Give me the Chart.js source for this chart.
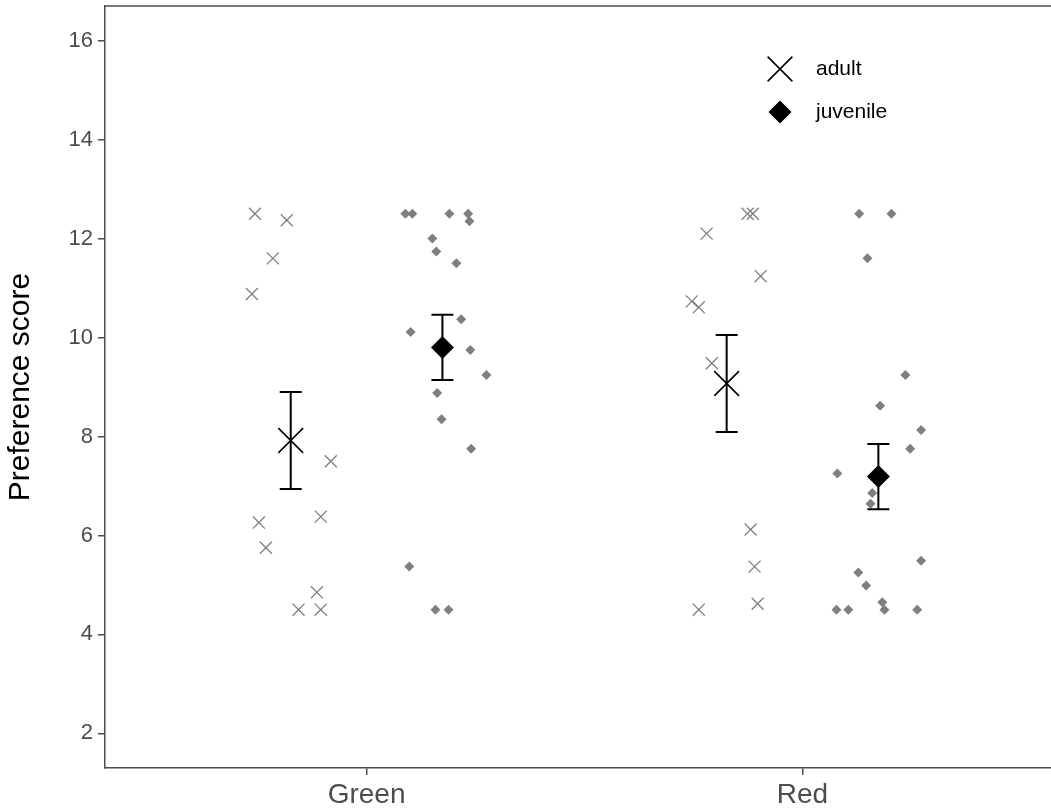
<!DOCTYPE html>
<html>
<head>
<meta charset="utf-8">
<script src="https://cdn.jsdelivr.net/npm/chart.js@4/dist/chart.umd.min.js"></script>
<style>
  html, body { margin: 0; padding: 0; background: #fff; overflow: hidden; }
  #wrap { width: 1051px; height: 809px; }
</style>
</head>
<body>
<div id="wrap"><canvas id="grafica" width="1051" height="809"></canvas></div>
<script>
const categorias = ['Green', 'Red'];
const grupos = ['adult', 'juvenile'];
const yTicks = [2, 4, 6, 8, 10, 12, 14, 16];

// puntuaciones individuales por color y edad
const greenAdult = [12.5, 12.37, 11.6, 10.88, 7.5, 6.26, 6.38, 5.75, 4.85, 4.5, 4.5];
const greenAdultJitter = [-0.082, -0.009, -0.041, -0.089, 0.092, -0.073, 0.069, -0.057, 0.060, 0.018, 0.069];
const greenJuvenile = [12.5, 12.5, 12.5, 12.5, 12.35, 12.0, 11.74, 11.5, 10.37, 10.11, 9.75, 9.24, 8.88, 8.35, 7.75, 5.37, 4.5, 4.5];
const greenJuvenileJitter = [-0.085, -0.069, 0.016, 0.059, 0.062, -0.023, -0.014, 0.032, 0.043, -0.073, 0.064, 0.101, -0.012, -0.002, 0.066, -0.076, -0.016, 0.014];
const redAdult = [12.5, 12.5, 12.1, 11.24, 10.73, 10.61, 9.48, 6.12, 5.37, 4.62, 4.5];
const redAdultJitter = [0.048, 0.060, -0.046, 0.078, -0.080, -0.064, -0.034, 0.055, 0.064, 0.071, -0.064];
const redJuvenile = [12.5, 12.5, 11.6, 9.24, 8.62, 8.13, 7.75, 7.25, 6.86, 6.64, 5.49, 5.25, 4.99, 4.65, 4.5, 4.5, 4.5, 4.5];
const redJuvenileJitter = [-0.044, 0.030, -0.025, 0.062, 0.004, 0.098, 0.073, -0.094, -0.014, -0.018, 0.098, -0.046, -0.028, 0.009, 0.014, -0.096, -0.069, 0.089];

// medias y error estandar (Green, Red)
const mediaAdult = [7.92, 9.07];
const errorAdult = [0.98, 0.98];
const mediaJuvenile = [9.80, 7.19];
const errorJuvenile = [0.66, 0.66];

const DODGE = 0.174;
const GRIS = '#7f7f7f';
const EJE = '#4d4d4d';
const FUENTE = '"Liberation Sans", Arial, sans-serif';

function puntos(valores, jitter, centro) {
    return valores.map((v, i) => ({ x: centro + jitter[i], y: v }));
}

function medias(valores, errores, desplaz) {
    return valores.map((v, i) => ({ x: i + 1 + desplaz, y: v, err: errores[i] }));
}

// sin relleno extra alrededor de los ejes
function sinPadding(s) {
    s.paddingLeft = 0;
    s.paddingRight = 0;
    s.paddingTop = 0;
    s.paddingBottom = 0;
}

const datosAdult = puntos(greenAdult, greenAdultJitter, 1 - DODGE)
    .concat(puntos(redAdult, redAdultJitter, 2 - DODGE));
const datosJuvenile = puntos(greenJuvenile, greenJuvenileJitter, 1 + DODGE)
    .concat(puntos(redJuvenile, redJuvenileJitter, 2 + DODGE));

// barras de error y borde superior del panel
const barrasError = {
    id: 'barrasError',
    afterDatasetsDraw(chart) {
        const { ctx, scales: { x, y } } = chart;
        ctx.save();
        ctx.strokeStyle = '#000';
        ctx.lineWidth = 2;
        chart.data.datasets.forEach(ds => {
            if (!ds.conError) return;
            ds.data.forEach(p => {
                const px = x.getPixelForValue(p.x);
                const top = y.getPixelForValue(p.y + p.err);
                const bot = y.getPixelForValue(p.y - p.err);
                ctx.beginPath();
                ctx.moveTo(px, top); ctx.lineTo(px, bot);
                ctx.moveTo(px - 11, top); ctx.lineTo(px + 11, top);
                ctx.moveTo(px - 11, bot); ctx.lineTo(px + 11, bot);
                ctx.stroke();
            });
        });
        ctx.restore();
    },
    afterDraw(chart) {
        const { ctx, chartArea } = chart;
        ctx.save();
        ctx.strokeStyle = EJE;
        ctx.lineWidth = 1.5;
        ctx.beginPath();
        ctx.moveTo(chartArea.left, chartArea.top);
        ctx.lineTo(chartArea.right, chartArea.top);
        ctx.stroke();
        ctx.restore();
    }
};

// leyenda dibujada dentro del panel
const leyenda = {
    id: 'leyenda',
    afterDraw(chart) {
        const ctx = chart.ctx;
        const items = [
            { texto: grupos[0], estilo: 'crossRot', radio: 17.5, borde: 1.6 },
            { texto: grupos[1], estilo: 'rectRot', radio: 11.5, borde: 0 }
        ];
        ctx.save();
        items.forEach((it, i) => {
            const cy = 69 + i * 43;
            ctx.strokeStyle = '#000';
            ctx.fillStyle = '#000';
            ctx.lineWidth = it.borde;
            Chart.helpers.drawPoint(ctx, {
                pointStyle: it.estilo, radius: it.radio, rotation: 0, borderWidth: it.borde
            }, 780, cy);
            ctx.fillStyle = '#000';
            ctx.font = '21px ' + FUENTE;
            ctx.textAlign = 'left';
            ctx.textBaseline = 'middle';
            ctx.fillText(it.texto, 816, cy);
        });
        ctx.restore();
    }
};

const ctx = document.getElementById('grafica').getContext('2d');
new Chart(ctx, {
    type: 'scatter',
    data: {
        datasets: [
            {
                label: 'adult',
                data: datosAdult,
                pointStyle: 'crossRot',
                pointRadius: 8.5,
                pointBorderWidth: 1.3,
                borderColor: GRIS,
                backgroundColor: GRIS
            },
            {
                label: 'juvenile',
                data: datosJuvenile,
                pointStyle: 'rectRot',
                pointRadius: 5,
                pointBorderWidth: 0,
                borderColor: GRIS,
                backgroundColor: GRIS
            },
            {
                label: 'adult mean',
                data: medias(mediaAdult, errorAdult, -DODGE),
                conError: true,
                pointStyle: 'crossRot',
                pointRadius: 17.5,
                pointBorderWidth: 1.6,
                borderColor: '#000',
                backgroundColor: '#000'
            },
            {
                label: 'juvenile mean',
                data: medias(mediaJuvenile, errorJuvenile, DODGE),
                conError: true,
                pointStyle: 'rectRot',
                pointRadius: 11.5,
                pointBorderWidth: 0,
                borderColor: '#000',
                backgroundColor: '#000'
            }
        ]
    },
    options: {
        responsive: false,
        animation: false,
        layout: { autoPadding: false, padding: { top: 6, right: 0, left: 0, bottom: 0 } },
        plugins: {
            legend: { display: false },
            tooltip: { enabled: false }
        },
        scales: {
            x: {
                type: 'linear',
                min: 0.4,
                max: 2.57,
                afterBuildTicks: s => { s.ticks = categorias.map((c, i) => ({ value: i + 1 })); },
                afterFit: s => { s.height = 41; sinPadding(s); },
                ticks: {
                    callback: v => categorias[v - 1],
                    color: EJE,
                    font: { family: FUENTE, size: 28 },
                    padding: 3,
                    maxRotation: 0
                },
                grid: { display: true, drawOnChartArea: false, tickLength: 7, color: EJE, lineWidth: 1.5 },
                border: { display: true, color: EJE, width: 1.5 }
            },
            y: {
                min: 1.3,
                max: 16.7,
                afterBuildTicks: s => { s.ticks = yTicks.map(v => ({ value: v })); },
                afterFit: s => { s.width = 105; sinPadding(s); },
                ticks: {
                    color: EJE,
                    font: { family: FUENTE, size: 22 },
                    padding: 5
                },
                grid: { display: true, drawOnChartArea: false, tickLength: 7, color: EJE, lineWidth: 1.5 },
                border: { display: true, color: EJE, width: 1.5 },
                title: {
                    display: true,
                    text: 'Preference score',
                    color: '#000',
                    font: { family: FUENTE, size: 30 },
                    padding: { top: 3, bottom: 0 }
                }
            }
        }
    },
    plugins: [barrasError, leyenda]
});
</script>
</body>
</html>
